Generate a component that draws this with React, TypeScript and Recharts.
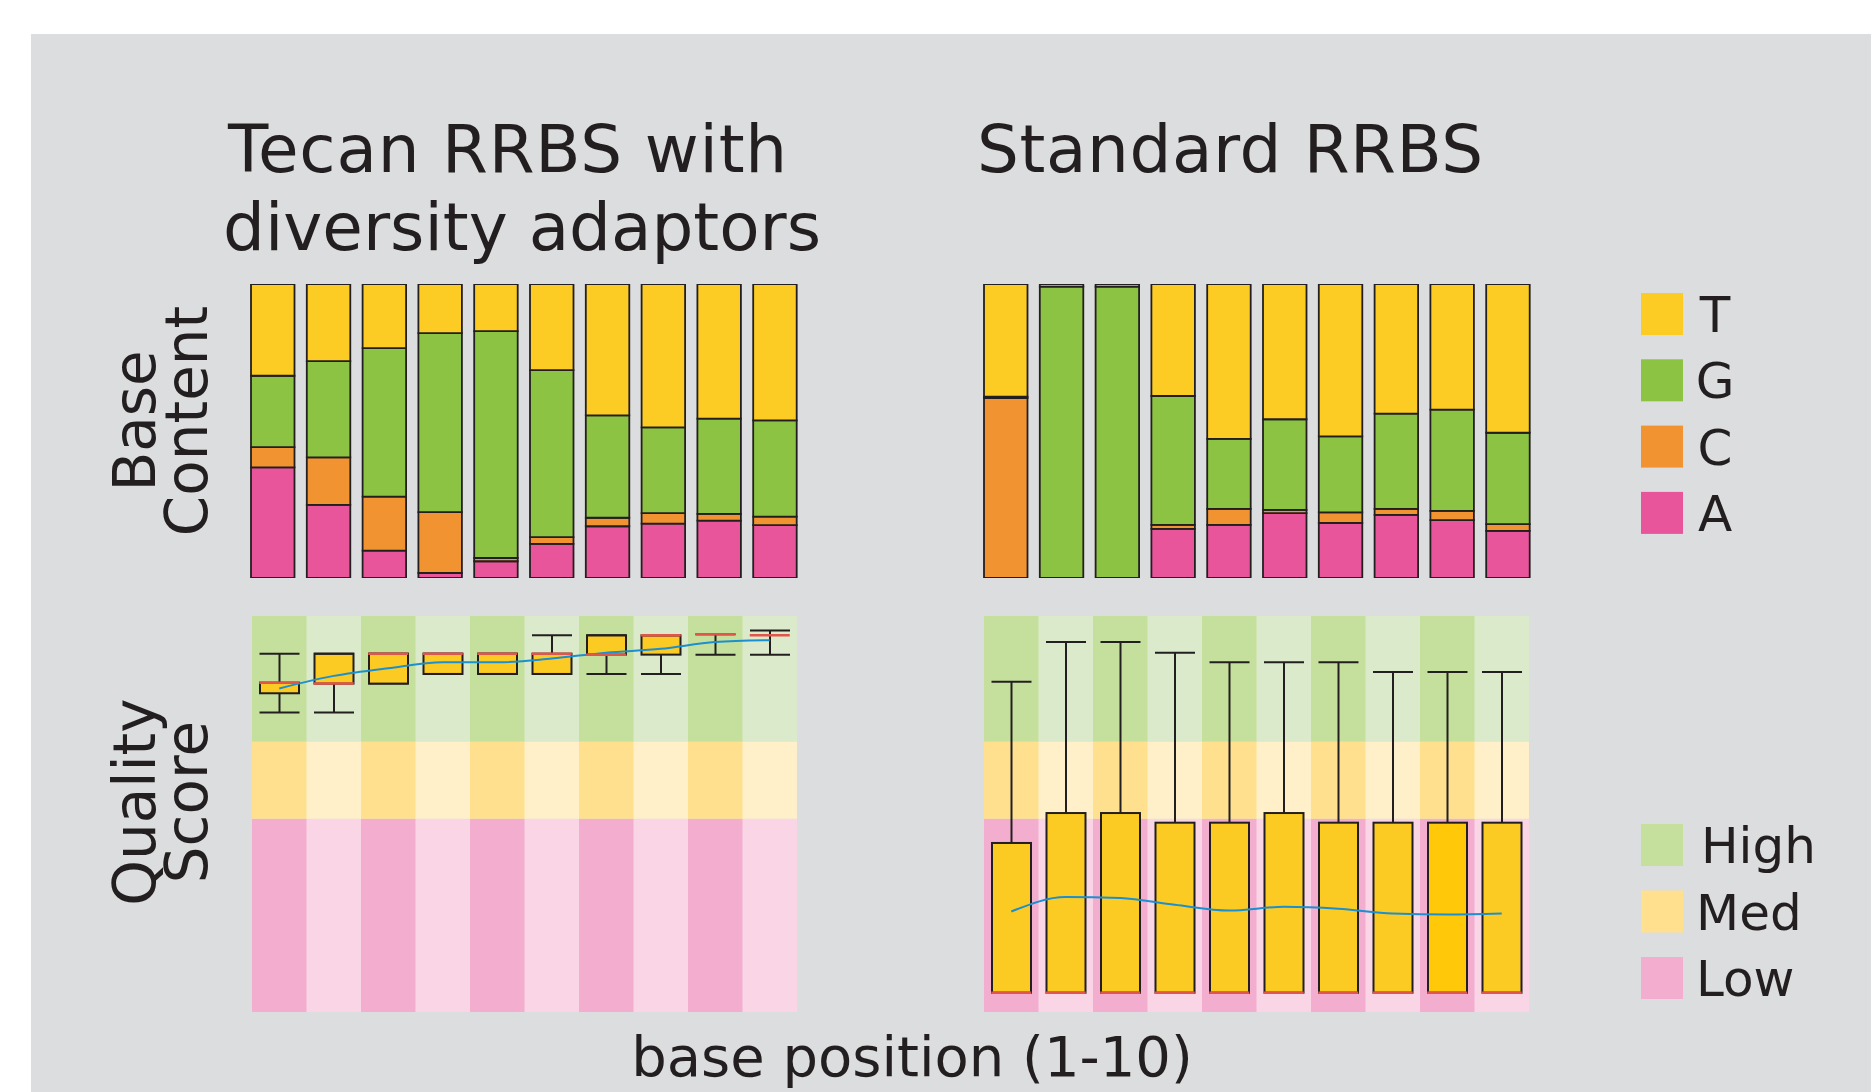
import React from 'react';
import { BarChart, ComposedChart, Bar, Line, Scatter, XAxis, YAxis, Cell } from 'recharts';

// base positions 1-10
const positions = ['1', '2', '3', '4', '5', '6', '7', '8', '9', '10'];

// base content (%), Tecan RRBS with diversity adaptors
const tecanA = [37.6, 24.9, 9.3, 1.7, 5.7, 11.6, 17.6, 18.5, 19.5, 18.0];
const tecanC = [6.9, 16.1, 18.4, 20.7, 1.1, 2.3, 2.9, 3.6, 2.3, 2.9];
const tecanG = [24.3, 32.8, 50.5, 60.9, 77.2, 56.8, 34.8, 29.1, 32.4, 32.7];
const tecanT = [31.2, 26.2, 21.8, 16.7, 16.0, 29.3, 44.7, 48.8, 45.8, 46.4];

// base content (%), Standard RRBS
const stdA = [0, 0, 0, 16.7, 18.1, 22.1, 18.7, 21.5, 19.7, 16.0];
const stdC = [61.2, 0, 0, 1.4, 5.4, 1.1, 3.6, 2.0, 3.1, 2.3];
const stdG = [0.5, 99.1, 99.1, 43.8, 23.8, 30.8, 25.9, 32.4, 34.5, 31.1];
const stdT = [38.3, 0.9, 0.9, 38.1, 52.7, 46.0, 51.8, 44.1, 42.7, 50.6];

// quality scores, Tecan
const tecanLow = [31.0, 31.0, 34.0, 35.0, 35.0, 35.0, 35.0, 35.0, 37.0, 37.0];
const tecanQ1 = [33.0, 34.0, 34.0, 35.0, 35.0, 35.0, 37.0, 37.0, 39.1, 39.0];
const tecanMedian = [34.1, 34.0, 37.1, 37.1, 37.1, 37.1, 37.0, 39.0, 39.1, 39.0];
const tecanQ3 = [34.1, 37.1, 37.1, 37.1, 37.1, 37.1, 39.0, 39.0, 39.1, 39.0];
const tecanHigh = [37.1, 37.1, 37.1, 37.1, 37.1, 39.0, 39.0, 39.0, 39.1, 39.5];
const tecanMean = [33.5, 34.8, 35.6, 36.2, 36.2, 36.6, 37.2, 37.6, 38.3, 38.5];

// quality scores, Standard
const stdLow = [2, 2, 2, 2, 2, 2, 2, 2, 2, 2];
const stdQ1 = [2, 2, 2, 2, 2, 2, 2, 2, 2, 2];
const stdMedian = [2, 2, 2, 2, 2, 2, 2, 2, 2, 2];
const stdQ3 = [17.5, 20.6, 20.6, 19.6, 19.6, 20.6, 19.6, 19.6, 19.6, 19.6];
const stdHigh = [34.2, 38.3, 38.3, 37.2, 36.2, 36.2, 36.2, 35.2, 35.2, 35.2];
const stdMean = [10.4, 11.9, 11.8, 11.1, 10.5, 10.9, 10.7, 10.2, 10.1, 10.2];

// quality bands: low 0-20, med 20-28, high 28-41
const bandLimits = [20, 28, 41];

const ink = '#231f20';
const baseColors = { T: '#fccc24', G: '#8cc342', C: '#f09330', A: '#e8559a' };
const bandDark = { high: '#c5e09c', med: '#ffe08f', low: '#f3adce' };
const bandLight = { high: '#dbeaca', med: '#fff0c9', low: '#f9d5e6' };
const boxFill = '#fccb23';
const medianRed = '#e2554a';
const meanBlue = '#1b8fd0';
const font = '"DejaVu Sans", sans-serif';
const capHalf = 20;

const baseRows = (a: number[], c: number[], g: number[], t: number[]) =>
  positions.map((p, i) => ({ pos: p, A: a[i], C: c[i], G: g[i], T: t[i] }));

const qualRows = (low: number[], q1: number[], med: number[], q3: number[], high: number[], mean: number[]) =>
  positions.map((p, i) => ({
    pos: p,
    base: low[i],
    lowW: q1[i] - low[i],
    box: q3[i] - q1[i],
    highW: high[i] - q3[i],
    median: med[i],
    mean: mean[i],
  }));

const bandRows = positions.map((p) => ({
  pos: p,
  low: bandLimits[0],
  med: bandLimits[1] - bandLimits[0],
  high: bandLimits[2] - bandLimits[1],
}));

const WhiskerUp = (props: any) => {
  const { x, y, width, height } = props;
  const cx = x + width / 2;
  return (
    <g>
      <line x1={cx} x2={cx} y1={y} y2={y + height} stroke={ink} strokeWidth={2} />
      <line x1={cx - capHalf} x2={cx + capHalf} y1={y} y2={y} stroke={ink} strokeWidth={2} />
    </g>
  );
};

const WhiskerDown = (props: any) => {
  const { x, y, width, height } = props;
  const cx = x + width / 2;
  return (
    <g>
      <line x1={cx} x2={cx} y1={y} y2={y + height} stroke={ink} strokeWidth={2} />
      <line x1={cx - capHalf} x2={cx + capHalf} y1={y + height} y2={y + height} stroke={ink} strokeWidth={2} />
    </g>
  );
};

const BoxShape = (props: any) => {
  const { x, y, width, height, fill } = props;
  return <rect x={x} y={y} width={width} height={height} fill={fill} stroke={ink} strokeWidth={2} />;
};

const MedianMark = (props: any) => {
  const { cx, cy } = props;
  return <line x1={cx - capHalf} x2={cx + capHalf} y1={cy} y2={cy} stroke={medianRed} strokeWidth={2.5} />;
};

const BaseContent = ({ data, left }: { data: any[]; left: number }) => (
  <div style={{ position: 'absolute', left, top: 284 }}>
    <BarChart width={558} height={294} data={data} margin={{ top: 0, right: 0, bottom: 0, left: 0 }} barSize={43.5}>
      <XAxis dataKey="pos" hide />
      <YAxis hide domain={[0, 100]} />
      <Bar dataKey="A" stackId="b" fill={baseColors.A} stroke={ink} strokeWidth={1.8} isAnimationActive={false} />
      <Bar dataKey="C" stackId="b" fill={baseColors.C} stroke={ink} strokeWidth={1.8} isAnimationActive={false} />
      <Bar dataKey="G" stackId="b" fill={baseColors.G} stroke={ink} strokeWidth={1.8} isAnimationActive={false} />
      <Bar dataKey="T" stackId="b" fill={baseColors.T} stroke={ink} strokeWidth={1.8} isAnimationActive={false} />
    </BarChart>
  </div>
);

const QualityPanel = ({ data, left, boxColors }: { data: any[]; left: number; boxColors: string[] }) => (
  <>
    <div style={{ position: 'absolute', left, top: 616 }}>
      <BarChart width={545} height={396} data={bandRows} margin={{ top: 0, right: 0, bottom: 0, left: 0 }} barCategoryGap={0} barGap={0}>
        <XAxis dataKey="pos" hide />
        <YAxis hide domain={[0, 41]} />
        {(['low', 'med', 'high'] as const).map((k) => (
          <Bar key={k} dataKey={k} stackId="bg" isAnimationActive={false}>
            {bandRows.map((_, i) => (
              <Cell key={i} fill={i % 2 === 0 ? bandDark[k] : bandLight[k]} />
            ))}
          </Bar>
        ))}
      </BarChart>
    </div>
    <div style={{ position: 'absolute', left, top: 616 }}>
      <ComposedChart width={545} height={396} data={data} margin={{ top: 0, right: 0, bottom: 0, left: 0 }} barSize={39}>
        <XAxis dataKey="pos" hide />
        <YAxis hide domain={[0, 41]} />
        <Bar dataKey="base" stackId="q" fill="transparent" isAnimationActive={false} />
        <Bar dataKey="lowW" stackId="q" shape={WhiskerDown} isAnimationActive={false} />
        <Bar dataKey="box" stackId="q" fill={boxFill} shape={BoxShape} isAnimationActive={false}>
          {data.map((_, i) => (
            <Cell key={i} fill={boxColors[i]} />
          ))}
        </Bar>
        <Bar dataKey="highW" stackId="q" shape={WhiskerUp} isAnimationActive={false} />
        <Scatter dataKey="median" shape={MedianMark} isAnimationActive={false} />
        <Line type="monotone" dataKey="mean" stroke={meanBlue} strokeWidth={2} dot={false} isAnimationActive={false} />
      </ComposedChart>
    </div>
  </>
);

const baseLegend = [
  { label: 'T', color: baseColors.T },
  { label: 'G', color: baseColors.G },
  { label: 'C', color: baseColors.C },
  { label: 'A', color: baseColors.A },
];
const qualLegend = [
  { label: 'High', color: bandDark.high },
  { label: 'Med', color: bandDark.med },
  { label: 'Low', color: bandDark.low },
];

export default function App() {
  const tecanBase = baseRows(tecanA, tecanC, tecanG, tecanT);
  const stdBase = baseRows(stdA, stdC, stdG, stdT);
  const tecanQual = qualRows(tecanLow, tecanQ1, tecanMedian, tecanQ3, tecanHigh, tecanMean);
  const stdQual = qualRows(stdLow, stdQ1, stdMedian, stdQ3, stdHigh, stdMean);
  const tecanBoxColors = positions.map(() => boxFill);
  const stdBoxColors = positions.map((_, i) => (i === 8 ? '#ffc90a' : boxFill));

  return (
    <div style={{ position: 'absolute', left: 0, top: 0, width: 1871, height: 1092, background: '#fff', overflow: 'hidden' }}>
      <svg width={1871} height={1092} style={{ position: 'absolute', left: 0, top: 0 }}>
        <rect x={31} y={34} width={1840} height={1058} fill="#dcdddf" />
        <g fontFamily={font} fill={ink}>
          <text x={228} y={172} fontSize={66} letterSpacing={0.8}>Tecan RRBS with</text>
          <text x={223} y={250} fontSize={66}>diversity adaptors</text>
          <text x={977} y={172} fontSize={66} letterSpacing={0.6}>Standard RRBS</text>

          <text transform="translate(155 421) rotate(-90)" textAnchor="middle" fontSize={58}>Base</text>
          <text transform="translate(207 421) rotate(-90)" textAnchor="middle" fontSize={58}>Content</text>
          <text transform="translate(155 802) rotate(-90)" textAnchor="middle" fontSize={58}>Quality</text>
          <text transform="translate(207 802) rotate(-90)" textAnchor="middle" fontSize={58}>Score</text>

          <text x={912} y={1076} textAnchor="middle" fontSize={56}>base position (1-10)</text>

          {baseLegend.map((d, i) => (
            <g key={d.label}>
              <rect x={1641} y={293 + i * 66.3} width={42} height={42} fill={d.color} />
              <text x={1715} y={332 + i * 66.3} textAnchor="middle" fontSize={50}>{d.label}</text>
            </g>
          ))}
          {qualLegend.map((d, i) => (
            <g key={d.label}>
              <rect x={1641} y={824 + i * 66.5} width={42} height={42} fill={d.color} />
              <text x={i === 0 ? 1701 : 1696} y={863 + i * 66.5} fontSize={50}>{d.label}</text>
            </g>
          ))}
        </g>
      </svg>

      <BaseContent data={tecanBase} left={245} />
      <BaseContent data={stdBase} left={978} />
      <QualityPanel data={tecanQual} left={252} boxColors={tecanBoxColors} />
      <QualityPanel data={stdQual} left={984} boxColors={stdBoxColors} />
    </div>
  );
}
